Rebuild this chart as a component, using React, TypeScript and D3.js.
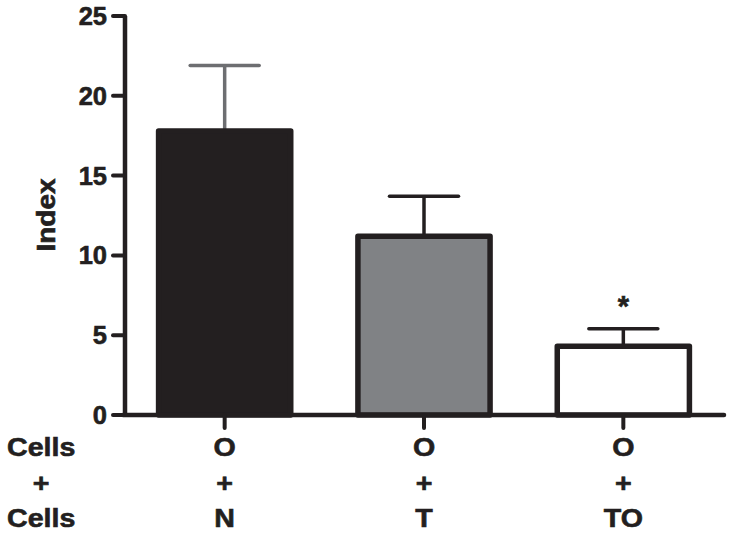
import React from "react";
import * as d3 from "d3";

const groups = ["N", "T", "TO"];
const row1 = ["O", "O", "O"];
const row2 = ["+", "+", "+"];
const means = [17.8, 11.2, 4.3];
const errors = [4.1, 2.5, 1.1];
const fills = ["#231f20", "#808285", "#ffffff"];
const errColors = ["#6d6e71", "#231f20", "#231f20"];
const yTicks = [0, 5, 10, 15, 20, 25];
const rowLabels = ["Cells", "+", "Cells"];
const sigMarks = ["", "", "*"];

const W = 733;
const H = 536;
const INK = "#231f20";
const FONT = "'Liberation Sans', Arial, Helvetica, sans-serif";

const textStyle = {
  fontFamily: FONT,
  fontWeight: "bold" as const,
  fill: INK,
  stroke: INK,
  strokeWidth: 0.6,
};

export default function App() {
  const y = d3.scaleLinear().domain([0, 25]).range([415, 16]);
  const x = d3.scaleBand<string>().domain(groups).range([125, 723]).padding(0);
  const barW = x.bandwidth() * 0.663;
  const capW = 69;
  const axisX = 125;
  const axisY = y(0);

  return (
    <svg width={W} height={H} style={{ position: "absolute", left: 0, top: 0 }}>
      <rect width={W} height={H} fill="#fff" />
      {groups.map((g, i) => {
        const cx = x(g)! + x.bandwidth() / 2;
        return (
          <g key={g}>
            <line
              x1={cx}
              x2={cx}
              y1={y(means[i])}
              y2={y(means[i] + errors[i])}
              stroke={errColors[i]}
              strokeWidth={3.5}
            />
            <line
              x1={cx - capW / 2}
              x2={cx + capW / 2}
              y1={y(means[i] + errors[i])}
              y2={y(means[i] + errors[i])}
              stroke={errColors[i]}
              strokeWidth={3.5}
              strokeLinecap="round"
            />
            <rect
              x={cx - barW / 2}
              y={y(means[i])}
              width={barW}
              height={axisY - y(means[i])}
              fill={fills[i]}
              stroke={INK}
              strokeWidth={5.5}
              strokeLinejoin="round"
            />
            {sigMarks[i] && (
              <text
                x={cx}
                y={y(means[i] + errors[i])}
                dy={-13}
                textAnchor="middle"
                fontSize={29}
                {...textStyle}
              >
                {sigMarks[i]}
              </text>
            )}
          </g>
        );
      })}
      <line x1={axisX} x2={axisX} y1={y(25)} y2={axisY + 2} stroke={INK} strokeWidth={4.5} />
      {yTicks.map((t) => (
        <g key={t}>
          <line
            x1={axisX - 12}
            x2={axisX}
            y1={y(t)}
            y2={y(t)}
            stroke={INK}
            strokeWidth={4}
            strokeLinecap="round"
          />
          <text
            transform={`translate(107,${y(t) + 9}) scale(1.02,1)`}
            textAnchor="end"
            fontSize={25}
            {...textStyle}
          >
            {t}
          </text>
        </g>
      ))}
      <text
        transform={`translate(55,215) rotate(-90) scale(1.12,1)`}
        textAnchor="middle"
        fontSize={25}
        {...textStyle}
      >
        Index
      </text>
      <line
        x1={axisX - 2}
        x2={724}
        y1={axisY}
        y2={axisY}
        stroke={INK}
        strokeWidth={4.5}
        strokeLinecap="round"
      />
      {groups.map((g) => {
        const cx = x(g)! + x.bandwidth() / 2;
        return (
          <line
            key={g}
            x1={cx}
            x2={cx}
            y1={axisY}
            y2={axisY + 13}
            stroke={INK}
            strokeWidth={4}
            strokeLinecap="round"
          />
        );
      })}
      {[row1, row2, groups].map((row, r) => {
        const baseY = [456, 492, 527][r];
        return (
          <g key={r}>
            <text
              transform={`translate(${r === 1 ? 41 : 7},${baseY}) scale(1.1,1)`}
              textAnchor={r === 1 ? "middle" : "start"}
              fontSize={26}
              {...textStyle}
            >
              {rowLabels[r]}
            </text>
            {row.map((lab, i) => (
              <text
                key={i}
                transform={`translate(${x(groups[i])! + x.bandwidth() / 2},${baseY}) scale(1.1,1)`}
                textAnchor="middle"
                fontSize={26}
                {...textStyle}
              >
                {lab}
              </text>
            ))}
          </g>
        );
      })}
    </svg>
  );
}
